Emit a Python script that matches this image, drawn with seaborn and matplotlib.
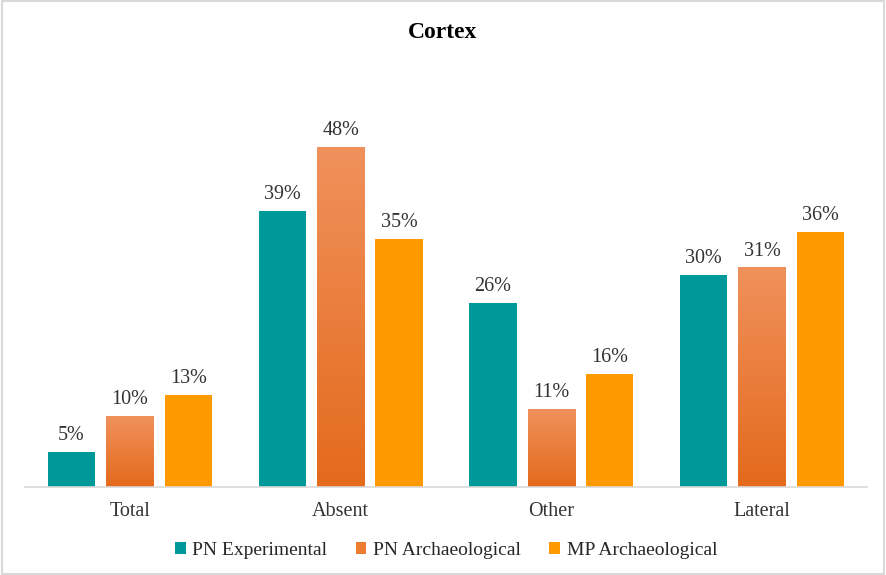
import numpy as np
import pandas as pd
import matplotlib.pyplot as plt
import seaborn as sns
from matplotlib.colors import LinearSegmentedColormap
from matplotlib.patches import Rectangle

categories = ['Total', 'Absent', 'Other', 'Lateral']
series = ['PN Experimental', 'PN Archaeological', 'MP Archaeological']
pn_experimental = [5, 39, 26, 30]
pn_archaeological = [10, 48, 11, 31]
mp_archaeological = [13, 35, 16, 36]

df = pd.DataFrame({
    'Category': categories * 3,
    'Series': [series[0]] * 4 + [series[1]] * 4 + [series[2]] * 4,
    'Value': pn_experimental + pn_archaeological + mp_archaeological,
})

sns.set_theme(style='white')
plt.rcParams['font.family'] = ['Liberation Serif', 'DejaVu Serif']

palette = ['#009999', '#ED7D31', '#FF9900']

fig = plt.figure(figsize=(8.86, 5.75), dpi=100)
ax = fig.add_axes([0.0277, 0.153, 0.9513, 0.708])
sns.barplot(data=df, x='Category', y='Value', hue='Series', palette=palette,
            order=categories, hue_order=series, width=0.83, gap=0.19,
            saturation=1, linewidth=0, ax=ax)

# gradient fill for the PN Archaeological bars
cmap = LinearSegmentedColormap.from_list('og', ['#E46A1C', '#F0915C'])
grad = np.linspace(0, 1, 256).reshape(-1, 1)
for p in ax.containers[1]:
    x, y = p.get_x(), p.get_y()
    w, h = p.get_width(), p.get_height()
    ax.imshow(grad, cmap=cmap, origin='lower', aspect='auto',
              extent=[x, x + w, y, y + h], zorder=p.get_zorder() + 0.1)

for c in ax.containers:
    ax.bar_label(c, fmt='%d%%', padding=5, fontsize=14.5, color='#333333')

ax.set_xlim(-0.5, 3.5)
ax.set_ylim(0, 57.5)
ax.set_xlabel('')
ax.set_ylabel('')
ax.set_yticks([])
ax.tick_params(axis='x', labelsize=14.5, colors='#333333', length=0, pad=11)
for s in ['top', 'right', 'left']:
    ax.spines[s].set_visible(False)
ax.spines['bottom'].set_color('#d9d9d9')
ax.spines['bottom'].set_linewidth(1.2)

fig.text(0.5, 1 - 32 / 575, 'Cortex', ha='center', va='center',
         fontsize=17, fontweight='bold', color='black')

h, l = ax.get_legend_handles_labels()
ax.legend(h, l, loc='center', bbox_to_anchor=(0.5, -0.155), ncol=3,
          frameon=False, fontsize=14, handlelength=0.55, handleheight=0.55,
          handletextpad=0.35, columnspacing=1.45)

fig.patches.append(Rectangle((0.002, 0.002), 0.996, 0.996, transform=fig.transFigure,
                             fill=False, edgecolor='#d9d9d9', linewidth=1.5))

fig.savefig('out.png', dpi=100)
